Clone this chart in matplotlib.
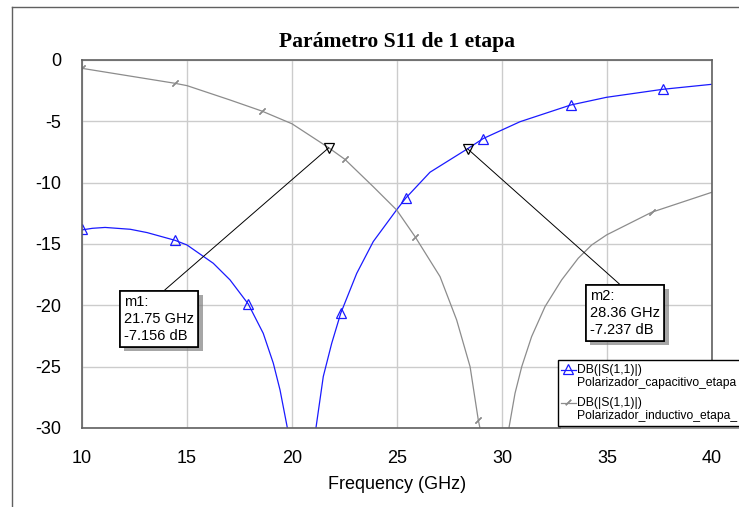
import matplotlib

matplotlib.use("Agg")
import matplotlib.pyplot as plt
from matplotlib import patheffects
from matplotlib.lines import Line2D
from matplotlib.patches import Rectangle

plt.rcParams["axes.unicode_minus"] = False

# capacitive stage S11 (blue), two branches around the notch
cap_f1 = [10.0, 10.5, 11.1, 12.3, 13.1, 14.43, 15.0, 16.25, 17.05, 17.92, 18.63, 19.11, 19.43, 19.78]
cap_db1 = [-13.85, -13.72, -13.65, -13.8, -14.07, -14.7, -15.08, -16.57, -17.93, -19.9, -22.28, -24.72, -26.9, -30.0]
cap_f2 = [21.14, 21.49, 21.89, 22.32, 23.08, 23.87, 24.98, 25.41, 26.57, 28.36, 29.11, 30.86, 33.27, 34.98, 37.65, 40.0]
cap_db2 = [-30.0, -25.8, -23.1, -20.65, -17.4, -14.8, -12.22, -11.27, -9.15, -7.237, -6.4, -5.03, -3.67, -3.04, -2.39, -1.98]
cap_mk_f = [10.0, 14.43, 17.92, 22.32, 25.41, 29.11, 33.27, 37.65]
cap_mk_db = [-13.8, -14.7, -19.9, -20.65, -11.27, -6.4, -3.67, -2.39]

# inductive stage S11 (gray)
ind_f1 = [10.0, 11.49, 14.43, 15.0, 17.05, 18.56, 20.0, 21.75, 22.52, 23.87, 24.98, 25.86, 27.05, 27.84, 28.48, 28.87, 28.95]
ind_db1 = [-0.68, -1.09, -1.9, -2.09, -3.26, -4.16, -5.2, -7.156, -8.1, -10.33, -12.22, -14.4, -17.66, -21.19, -25.0, -29.34, -30.0]
ind_f2 = [30.33, 30.62, 30.94, 31.41, 32.05, 32.84, 33.63, 34.27, 34.98, 37.13, 40.0]
ind_db2 = [-30.0, -27.17, -25.0, -22.55, -20.1, -17.93, -16.16, -15.08, -14.26, -12.41, -10.78]
ind_mk_f = [10.0, 14.43, 18.56, 22.52, 25.86, 28.87, 37.13]
ind_mk_db = [-0.68, -1.9, -4.16, -8.1, -14.4, -29.34, -12.41]

# data markers m1 / m2
mark_names = ["m1", "m2"]
mark_f = [21.75, 28.36]
mark_db = [-7.156, -7.237]

x_ticks = [10, 15, 20, 25, 30, 35, 40]
y_ticks = [0, -5, -10, -15, -20, -25, -30]

W, H = 739, 507
BLUE = "#1a1aff"
GRAY = "#8c8c8c"
SANS = "Liberation Sans"

fig = plt.figure(figsize=(W / 100, H / 100), dpi=100)


def px(x, y):
    return (x / W, 1 - y / H)


ax = fig.add_axes([82 / W, 1 - 428 / H, 630 / W, 368 / H])

ax.plot(cap_f1, cap_db1, color=BLUE, lw=0.9)
ax.plot(cap_f2, cap_db2, color=BLUE, lw=0.9)
ax.plot(cap_mk_f, cap_mk_db, ls="none", marker="^", ms=7.5, mfc="none", mec=BLUE, mew=0.9)

ax.plot(ind_f1, ind_db1, color=GRAY, lw=0.9)
ax.plot(ind_f2, ind_db2, color=GRAY, lw=0.9)
ax.plot(ind_mk_f, ind_mk_db, ls="none", marker=(2, 2, -45), ms=6, mec=GRAY, mew=0.9)

ax.plot(mark_f, mark_db, ls="none", marker="v", ms=7.5, mfc="none", mec="black", mew=0.9, zorder=5)

for name, f, db in zip(mark_names, mark_f, mark_db):
    if name == "m1":
        pos = (124, H - 295)
    else:
        pos = (590, H - 289)
    ann = ax.annotate(
        f"{name}:\n{f:.2f} GHz\n{db:.3f} dB",
        xy=(f, db),
        xytext=pos,
        textcoords="figure pixels",
        ha="left",
        va="top",
        fontsize=10.5,
        family=SANS,
        linespacing=1.25,
        bbox=dict(boxstyle="square,pad=0.3", fc="white", ec="black", lw=1.2),
        arrowprops=dict(arrowstyle="-", color="black", lw=0.7, relpos=(0.5, 1.0), shrinkA=0, shrinkB=0),
        zorder=6,
    )
    ann.get_bbox_patch().set_path_effects(
        [patheffects.withSimplePatchShadow(offset=(3, -3), shadow_rgbFace="#808080", alpha=0.7), patheffects.Normal()]
    )

ax.set_xlim(10, 40)
ax.set_ylim(-30, 0)
ax.set_xticks(x_ticks)
ax.set_yticks(y_ticks)
ax.tick_params(length=0, labelsize=13, pad=16)
ax.tick_params(axis="y", pad=15)
for lab in ax.get_xticklabels() + ax.get_yticklabels():
    lab.set_family(SANS)
ax.grid(True, color="#cccccc", lw=1.0)
ax.set_axisbelow(True)
for sp in ax.spines.values():
    sp.set_color("#606060")
    sp.set_linewidth(1.2)

ax.set_xlabel("Frequency (GHz)", fontsize=13, family=SANS, labelpad=6)
fig.text(397 / W, 1 - 42 / H, "Parámetro S11 de 1 etapa", ha="center", va="center",
         fontsize=15.6, fontweight="bold", family="Liberation Serif")

# outer frame of the graph window
fig.add_artist(Line2D([px(12, 0)[0], px(12, 0)[0]], [0, px(0, 7)[1]], color="#606060", lw=1.0))
fig.add_artist(Line2D([px(12, 0)[0], 1], [px(0, 7)[1], px(0, 7)[1]], color="#606060", lw=1.0))

# legend box (runs off the right edge)
fig.add_artist(Rectangle(px(561, 429), 200 / W, 66 / H, transform=fig.transFigure, fc="#999999", ec="none"))
fig.add_artist(Rectangle(px(558, 426), 200 / W, 66 / H, transform=fig.transFigure, fc="white", ec="black", lw=1.0))
legend_rows = [
    (370, BLUE, "^", "DB(|S(1,1)|)", "Polarizador_capacitivo_etapa"),
    (403, GRAY, (2, 2, -45), "DB(|S(1,1)|)", "Polarizador_inductivo_etapa_"),
]
for y, col, mk, l1, l2 in legend_rows:
    fig.add_artist(Line2D([561 / W, 576 / W], [px(0, y)[1]] * 2, color=col, lw=0.9))
    fig.add_artist(Line2D([568 / W], [px(0, y - 1)[1]], color=col, marker=mk, ms=6.5 if mk == "^" else 5.5,
                          mfc="none", mec=col, mew=0.9))
    fig.text(577 / W, px(0, y)[1], l1, fontsize=8.7, family=SANS, va="center", ha="left")
    fig.text(577 / W, px(0, y + 13)[1], l2, fontsize=8.7, family=SANS, va="center", ha="left")

fig.savefig("out.png", dpi=100)
